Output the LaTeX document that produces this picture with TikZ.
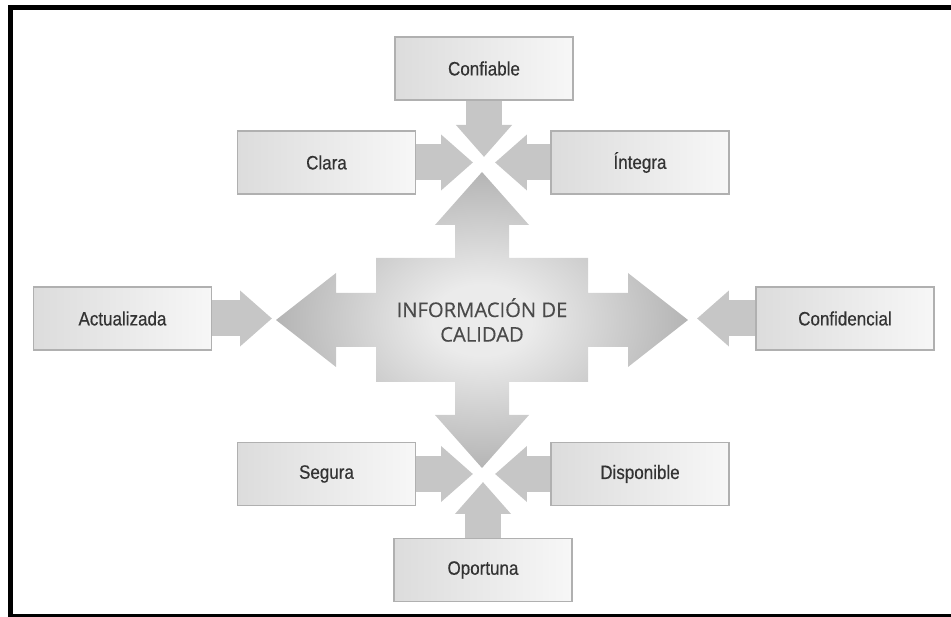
\documentclass[tikz,border=0pt]{standalone}
\usepackage{fontspec}
\setmainfont{Liberation Sans}
\newfontfamily\boxfont[FakeStretch=0.88, FakeBold=0.5]{Liberation Sans}
\newfontfamily\centerfont[FakeBold=0.3]{Open Sans}
\usetikzlibrary{arrows.meta, backgrounds}

\definecolor{boxborder}{HTML}{B0B0B0}
\definecolor{boxleft}{HTML}{DCDCDC}
\definecolor{boxright}{HTML}{F7F7F7}
\definecolor{boxtext}{HTML}{333333}
\definecolor{arrowgray}{HTML}{C6C6C6}
\definecolor{crossin}{HTML}{EBEBEB}
\definecolor{crossmid}{HTML}{A6A6A6}
\definecolor{crossout}{HTML}{727272}
\definecolor{infotext}{HTML}{4A4A4A}
\pgfdeclareradialshading{crossshade}{\pgfpoint{0bp}{0bp}}{color(0bp)=(crossin); color(6bp)=(crossin); color(30bp)=(crossmid); color(50bp)=(crossout)}

\begin{document}
\begin{tikzpicture}[
        x=0.02cm, y=-0.02cm,
        box/.style={rectangle, draw=boxborder, line width=1pt, left color=boxleft, right color=boxright,
            minimum width=3.56cm, minimum height=1.26cm, text=boxtext,
            font=\boxfont\fontsize{11}{13}\selectfont},
        arrow/.style={line width=0.72cm, draw=arrowgray, -{Triangle[width=1.08cm, length=0.64cm]}},
        infotxt/.style={align=center, text=infotext, font=\centerfont\fontsize{11.5}{14}\selectfont}
    ]
        \useasboundingbox (0,0) rectangle (951,617);

        % Frame
        \draw[line width=0.1cm] (10.5,617) -- (10.5,7.5) -- (951,7.5);
        \draw[line width=0.07cm] (8,615.5) -- (951,615.5);

        % Center cross
        \shade[shading=crossshade, shift={(482,320)}]
            (-106,-62) -- (-27,-62) -- (-27,-95) -- (-47,-95) -- (0,-148) -- (47,-95) -- (27,-95) -- (27,-62)
            -- (106,-62) -- (106,-27) -- (146,-27) -- (146,-47) -- (206,0) -- (146,47) -- (146,27) -- (106,27)
            -- (106,62) -- (27,62) -- (27,95) -- (47,95) -- (0,148) -- (-47,95) -- (-27,95) -- (-27,62)
            -- (-106,62) -- (-106,27) -- (-146,27) -- (-146,47) -- (-206,0) -- (-146,-47) -- (-146,-27)
            -- (-106,-27) -- cycle;
        \node[infotxt] (info) at (482,320) {INFORMACIÓN DE\\CALIDAD};

        % Boxes
        \node[box] (confiable) at (484,68.5) {Confiable};
        \node[box] (clara) at (326.5,162.5) {Clara};
        \node[box] (integra) at (640,162.5) {Íntegra};
        \node[box] (actualizada) at (122.5,318.5) {Actualizada};
        \node[box] (confidencial) at (845,318.5) {Confidencial};
        \node[box] (segura) at (326.5,474) {Segura};
        \node[box] (disponible) at (640,474) {Disponible};
        \node[box] (oportuna) at (483,570) {Oportuna};

        % Tips
        \coordinate (tconf) at (484,157);
        \coordinate (tclara) at (473,162.5);
        \coordinate (tint) at (495,162.5);
        \coordinate (tact) at (272,318.5);
        \coordinate (tcfd) at (697,318.5);
        \coordinate (tseg) at (473,474);
        \coordinate (tdisp) at (495,474);
        \coordinate (topor) at (483,482);

        % Arrows
        \begin{scope}[on background layer]
            \draw[arrow] (confiable.center) -- (tconf);
            \draw[arrow] (clara.center) -- (tclara);
            \draw[arrow] (integra.center) -- (tint);
            \draw[arrow] (actualizada.center) -- (tact);
            \draw[arrow] (confidencial.center) -- (tcfd);
            \draw[arrow] (segura.center) -- (tseg);
            \draw[arrow] (disponible.center) -- (tdisp);
            \draw[arrow] (oportuna.center) -- (topor);
        \end{scope}
    \end{tikzpicture}
\end{document}
